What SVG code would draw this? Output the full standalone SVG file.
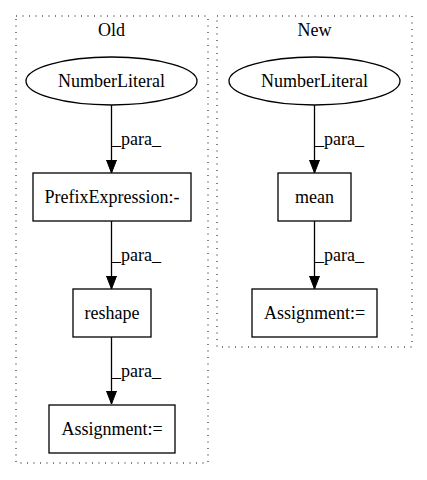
<svg xmlns="http://www.w3.org/2000/svg" width="427" height="480" viewBox="0 0 427 480">
<defs>
<marker id="arr" markerWidth="15" markerHeight="12" refX="13" refY="6" orient="auto" markerUnits="userSpaceOnUse">
<path d="M0,1 L13,6 L0,11 Z" fill="#000" stroke="#000"/>
</marker>
</defs>
<style>
.c{fill:none;stroke:#000;stroke-dasharray:1,5.5}
.n{fill:#fff;stroke:#000;stroke-width:1.3}
.e{stroke:#000;stroke-width:1.3;fill:none;marker-end:url(#arr)}
</style>
<rect width="427" height="480" fill="#fff"/>
<g font-family="Liberation Serif, Times New Roman, DejaVu Serif, serif" font-size="18" fill="#000">
<g id="cluster_old">
<rect class="c" x="16" y="16" width="192" height="447"/>
<text x="111.5" y="36" text-anchor="middle">Old</text>
</g>
<g id="cluster_new">
<rect class="c" x="217" y="16" width="195" height="331"/>
<text x="314.5" y="36" text-anchor="middle">New</text>
</g>
<g id="edges">
<line class="e" x1="111.5" y1="105" x2="111.5" y2="173"/>
<text x="112" y="145">_para_</text>
<line class="e" x1="111.5" y1="221" x2="111.5" y2="289"/>
<text x="112" y="261">_para_</text>
<line class="e" x1="111.5" y1="337" x2="111.5" y2="404"/>
<text x="112" y="377">_para_</text>
<line class="e" x1="314.5" y1="105" x2="314.5" y2="173"/>
<text x="315" y="145">_para_</text>
<line class="e" x1="314.5" y1="221" x2="314.5" y2="289"/>
<text x="315" y="261">_para_</text>
</g>
<g id="old_numberliteral">
<ellipse class="n" cx="111.5" cy="81" rx="85.5" ry="24"/>
<text x="111.5" y="87" text-anchor="middle">NumberLiteral</text>
</g>
<g id="old_prefix">
<rect class="n" x="33" y="173" width="158" height="48"/>
<text x="112" y="203" text-anchor="middle">PrefixExpression:-</text>
</g>
<g id="old_reshape">
<rect class="n" x="73" y="289" width="78" height="48"/>
<text x="112" y="319" text-anchor="middle">reshape</text>
</g>
<g id="old_assignment">
<rect class="n" x="49" y="405" width="126" height="48"/>
<text x="112" y="435" text-anchor="middle">Assignment:=</text>
</g>
<g id="new_numberliteral">
<ellipse class="n" cx="314.5" cy="81" rx="85.5" ry="24"/>
<text x="314.5" y="87" text-anchor="middle">NumberLiteral</text>
</g>
<g id="new_mean">
<rect class="n" x="278" y="173" width="73" height="48"/>
<text x="314.5" y="203" text-anchor="middle">mean</text>
</g>
<g id="new_assignment">
<rect class="n" x="252" y="289" width="125" height="48"/>
<text x="314.5" y="319" text-anchor="middle">Assignment:=</text>
</g>
</g>
</svg>
